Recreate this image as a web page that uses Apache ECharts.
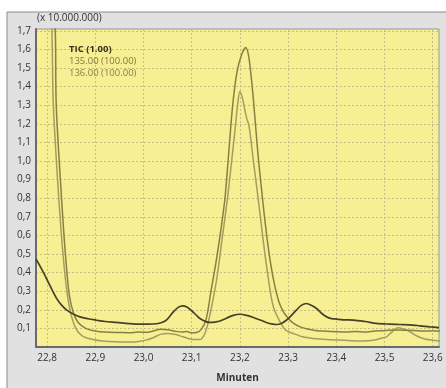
<!DOCTYPE html>
<html>
<head>
<meta charset="utf-8">
<script src="https://cdn.jsdelivr.net/npm/echarts@6/dist/echarts.min.js"></script>
<style>
  html, body { margin: 0; padding: 0; background: #fff; }
  #main { width: 446px; height: 388px; }
</style>
</head>
<body>
<div id="main"></div>
<script>
// trace names as in the instrument legend
const names = ['TIC (1.00)', '135.00 (100.00)', '136.00 (100.00)'];

// [minutes, intensity x 10.000.000]
const tic = [
  [22.777, 0.474], [22.792, 0.403], [22.806, 0.33], [22.82, 0.26], [22.83, 0.225],
  [22.841, 0.198], [22.855, 0.176], [22.868, 0.162], [22.885, 0.152], [22.903, 0.144],
  [22.92, 0.137], [22.944, 0.132], [22.97, 0.126], [22.993, 0.123], [23.01, 0.123],
  [23.027, 0.125], [23.038, 0.132], [23.048, 0.146], [23.062, 0.189], [23.072, 0.213],
  [23.081, 0.221], [23.09, 0.215], [23.1, 0.195], [23.11, 0.17], [23.117, 0.153],
  [23.128, 0.138], [23.138, 0.132], [23.148, 0.134], [23.159, 0.14], [23.172, 0.155],
  [23.186, 0.17], [23.2, 0.176], [23.214, 0.17], [23.228, 0.159], [23.242, 0.145],
  [23.255, 0.132], [23.266, 0.124], [23.276, 0.121], [23.287, 0.128], [23.297, 0.145],
  [23.307, 0.17], [23.317, 0.198], [23.328, 0.225], [23.338, 0.234], [23.348, 0.225],
  [23.359, 0.207], [23.37, 0.18], [23.38, 0.162], [23.39, 0.153], [23.4, 0.15],
  [23.414, 0.146], [23.435, 0.145], [23.46, 0.137], [23.483, 0.127], [23.51, 0.123],
  [23.532, 0.121], [23.559, 0.118], [23.573, 0.114], [23.595, 0.108], [23.613, 0.104]
];

const mz135 = [
  [22.795, 3.0], [22.81, 1.95], [22.817, 1.7], [22.819, 1.3], [22.83, 0.8],
  [22.838, 0.5], [22.846, 0.28], [22.855, 0.18], [22.865, 0.13], [22.88, 0.1],
  [22.895, 0.088], [22.91, 0.082], [22.93, 0.079], [22.95, 0.078], [22.97, 0.077],
  [22.99, 0.08], [23.005, 0.079], [23.02, 0.086], [23.035, 0.095], [23.05, 0.093],
  [23.065, 0.085], [23.08, 0.08], [23.09, 0.083], [23.1, 0.076], [23.11, 0.078],
  [23.12, 0.095], [23.13, 0.15], [23.14, 0.3], [23.15, 0.45], [23.16, 0.62],
  [23.169, 0.8], [23.177, 1.05], [23.185, 1.3], [23.194, 1.48], [23.204, 1.575],
  [23.212, 1.61], [23.219, 1.55], [23.228, 1.33], [23.237, 1.05], [23.247, 0.795],
  [23.258, 0.55], [23.269, 0.37], [23.28, 0.25], [23.29, 0.19], [23.3, 0.155],
  [23.31, 0.13], [23.325, 0.108], [23.34, 0.097], [23.36, 0.088], [23.38, 0.085],
  [23.4, 0.082], [23.42, 0.08], [23.44, 0.084], [23.46, 0.081], [23.48, 0.086],
  [23.5, 0.088], [23.52, 0.092], [23.54, 0.09], [23.56, 0.089], [23.58, 0.086],
  [23.6, 0.087], [23.615, 0.085]
];

const mz136 = [
  [22.795, 3.0], [22.805, 2.0], [22.81, 1.7], [22.813, 1.3], [22.823, 0.85],
  [22.833, 0.5], [22.842, 0.28], [22.85, 0.171], [22.857, 0.115], [22.864, 0.082],
  [22.873, 0.06], [22.881, 0.05], [22.895, 0.04], [22.915, 0.032], [22.94, 0.028],
  [22.97, 0.027], [22.99, 0.03], [23.005, 0.037], [23.02, 0.05], [23.035, 0.068],
  [23.05, 0.073], [23.065, 0.068], [23.076, 0.06], [23.09, 0.048], [23.103, 0.04],
  [23.117, 0.04], [23.125, 0.06], [23.131, 0.1], [23.14, 0.2], [23.152, 0.367],
  [23.163, 0.58], [23.174, 0.795], [23.182, 0.98], [23.19, 1.17], [23.196, 1.32],
  [23.2, 1.374], [23.206, 1.33], [23.213, 1.24], [23.219, 1.187], [23.228, 1.0],
  [23.238, 0.795], [23.248, 0.58], [23.259, 0.367], [23.269, 0.22], [23.283, 0.136],
  [23.295, 0.09], [23.31, 0.073], [23.33, 0.055], [23.352, 0.046], [23.38, 0.04],
  [23.407, 0.037], [23.43, 0.034], [23.456, 0.032], [23.48, 0.038], [23.495, 0.048],
  [23.504, 0.055], [23.515, 0.08], [23.528, 0.104], [23.54, 0.096], [23.553, 0.082],
  [23.565, 0.062], [23.58, 0.046], [23.6, 0.036], [23.615, 0.032]
];

const colors = ['#45412a', '#878140', '#a39d5f'];

const myChart = echarts.init(document.getElementById('main'));

// only label the tenths, hide the extent ticks
function tenth(v) {
  if (Math.abs(v * 10 - Math.round(v * 10)) > 1e-6) return '';
  return v.toFixed(1).replace('.', ',');
}

const gridLine = {
  show: true,
  lineStyle: { color: '#c4bd86', type: [2, 2], width: 1 }
};

myChart.setOption({
  animation: false,
  textStyle: { fontFamily: 'Open Sans' },
  graphic: [
    {
      type: 'rect', z: -10, silent: true,
      shape: { x: 7, y: 12, width: 450, height: 390 },
      style: { fill: '#e1e1e1', stroke: '#8c8c8c', lineWidth: 1 }
    },
    {
      type: 'text', left: 37, top: 13,
      style: { text: '(x 10.000.000)', fill: '#333', font: '10px "Open Sans"' }
    }
  ],
  legend: {
    orient: 'vertical',
    left: 59,
    top: 39,
    itemWidth: 0,
    itemHeight: 0,
    itemGap: 2,
    icon: 'rect',
    selectedMode: false,
    textStyle: { fontSize: 9.5, fontFamily: 'Open Sans', padding: 0 },
    data: [
      { name: names[0], textStyle: { color: '#36321e', fontWeight: 'bold' } },
      { name: names[1], textStyle: { color: '#807a3c' } },
      { name: names[2], textStyle: { color: '#88824a' } }
    ]
  },
  grid: {
    left: 36, right: 7, top: 29, bottom: 40,
    show: true,
    backgroundColor: '#f6ef93',
    borderColor: '#9a9a9a',
    borderWidth: 1
  },
  xAxis: {
    type: 'value',
    min: 22.777,
    max: 23.613,
    splitNumber: 8,
    name: 'Minuten',
    nameLocation: 'middle',
    nameGap: 26,
    nameTextStyle: { fontWeight: 'bold', fontSize: 10, color: '#333' },
    axisLine: { show: true, lineStyle: { color: '#6a6a6a', width: 2 } },
    axisTick: { show: false },
    axisLabel: { color: '#333', fontSize: 10, margin: 6, formatter: tenth },
    splitLine: gridLine
  },
  yAxis: {
    type: 'value',
    min: 0,
    max: 1.71,
    interval: 0.1,
    axisLine: { show: true, lineStyle: { color: '#6a6a6a', width: 2 } },
    axisTick: { show: false },
    axisLabel: {
      color: '#333', fontSize: 10, margin: 5,
      formatter: function (v) { return v === 0 ? '' : tenth(v); }
    },
    splitLine: gridLine
  },
  series: [
    {
      name: names[2], type: 'line', data: mz136, showSymbol: false,
      smooth: 0.3, clip: true,
      lineStyle: { color: colors[2], width: 1.5 }, itemStyle: { color: colors[2] }
    },
    {
      name: names[1], type: 'line', data: mz135, showSymbol: false,
      smooth: 0.3, clip: true,
      lineStyle: { color: colors[1], width: 1.5 }, itemStyle: { color: colors[1] }
    },
    {
      name: names[0], type: 'line', data: tic, showSymbol: false,
      smooth: 0.3, clip: true,
      lineStyle: { color: colors[0], width: 1.7 }, itemStyle: { color: colors[0] }
    }
  ]
});

window.addEventListener('resize', function () {
  myChart.resize();
});
</script>
</body>
</html>
